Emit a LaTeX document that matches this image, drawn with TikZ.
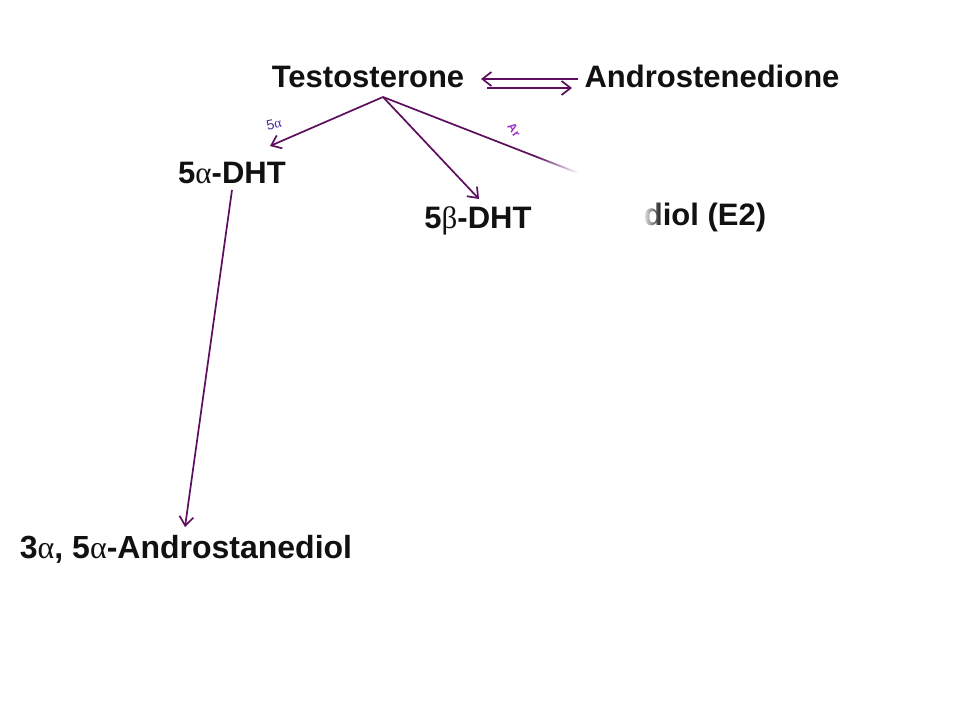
\documentclass[tikz,border=0pt]{standalone}
\usepackage{fontspec}
\setmainfont{Liberation Sans}
\newfontfamily\grk{Liberation Serif}
\usetikzlibrary{arrows.meta,fadings,calc}
\tikzfading[name=coverfade, left color=transparent!0, right color=transparent!100]
\definecolor{arr}{HTML}{5E0E5E}
\definecolor{lab}{HTML}{4B2A9A}
\definecolor{labm}{HTML}{A030C8}
\definecolor{txt}{HTML}{111111}
\newcommand{\ga}{{\grk\mdseries α}}
\newcommand{\gb}{{\grk\mdseries β}}
\begin{document}
\begin{tikzpicture}[x=1pt,y=-1pt,
  chem/.style={font=\fontsize{31}{36}\selectfont\bfseries, text=txt, inner sep=0pt, anchor=base},
  conn/.style={draw=arr, line width=1.7pt, -{Straight Barb[length=9pt,width=14pt,line width=1.7pt]}},
  hand/.style={inner sep=0pt}]
\useasboundingbox (0,0) rectangle (960,720);
\fill[white] (0,0) rectangle (960,720);
% compounds
\node[chem] (T) at (368,87) {Testosterone};
\node[chem] (A) at (712,87) {Androstenedione};
\node[chem] (DHTa) at (232,183) {5\ga-DHT};
\node[chem] (DHTb) at (478,228) {5\gb-DHT};
\node[chem] (E2) at (705,225) {diol (E2)};
\node[chem, font=\fontsize{32}{36}\selectfont\bfseries] (Adiol) at (186,558) {3\ga, 5\ga-Androstanediol};
% fade over the start of the E2 text
\fill[white] (630,195) rectangle (643,235);
\fill[white, path fading=coverfade] (642,195) rectangle (662,235);
% connection points
\coordinate (tsrc) at (383,97);
\coordinate (aTop1) at (578,79);
\coordinate (aTop2) at (481,79);
\coordinate (aBot1) at (487,88);
\coordinate (aBot2) at (572,88);
\coordinate (dhtaIn) at (270,146);
\coordinate (dhtbIn) at (479,199);
\coordinate (e2end) at (578,173);
\coordinate (dhtaOut) at (232,190);
\coordinate (adiolIn) at (185,527);
% arrows
\draw[conn] (aTop1) -- (aTop2);
\draw[conn] (aBot1) -- (aBot2);
\draw[conn] (tsrc) -- (dhtaIn);
\draw[conn] (tsrc) -- (dhtbIn);
\draw[conn] (dhtaOut) -- (adiolIn);
\draw[arr, line width=1.7pt] (tsrc) -- ($(tsrc)!0.78!(e2end)$);
\foreach \i in {0,...,21}{
  \pgfmathsetmacro{\ta}{0.78+\i*0.01}
  \pgfmathsetmacro{\tb}{0.78+(\i+1)*0.01+0.002}
  \pgfmathsetmacro{\c}{100-\i*100/22}
  \draw[draw=arr!\c!white, line width=1.7pt] ($(tsrc)!\ta!(e2end)$) -- ($(tsrc)!\tb!(e2end)$);
}
% small labels
\node[hand, text=lab, rotate=12, font=\fontsize{14}{15}\selectfont] (l5a) at (274,124) {5\ga};
\node[hand, text=labm, rotate=-55, font=\fontsize{12}{13}\selectfont\bfseries] (lar) at (514,130) {Ar};
\end{tikzpicture}
\end{document}
